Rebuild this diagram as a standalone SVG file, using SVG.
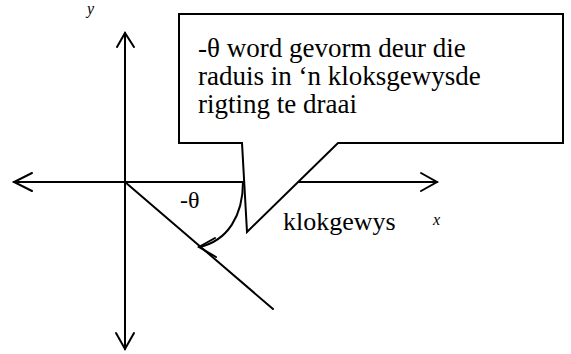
<svg xmlns="http://www.w3.org/2000/svg" width="571" height="354" viewBox="0 0 571 354">
<style>
.ln{fill:none;stroke:#000;stroke-width:2;stroke-linecap:round;stroke-linejoin:miter}
.t{font-family:"Liberation Serif","Times New Roman",serif;fill:#000}
.i{font-family:"Liberation Serif","Times New Roman",serif;font-style:italic;fill:#000}
</style>
<rect width="571" height="354" fill="#fff"/>
<g id="connectors">
<path class="ln" d="M125,33 V349"/>
<path class="ln" d="M117,47 L125,33 L134,47"/>
<path class="ln" d="M116,333 L125,349 L134,333"/>
<path class="ln" d="M14,182 H437"/>
<path class="ln" d="M32,173 L14,182 L32,191"/>
<path class="ln" d="M421,173 L437,182 L421,191"/>
<path class="ln" d="M125,182 L273,309"/>
<path class="ln" d="M243,182 C243,215 228,241 199,247"/>
<path class="ln" d="M215,238 L199,247 L216,257"/>
</g>
<g id="callout">
<path d="M179,14 H563 V143 H338 L247,232 L242,143 H179 Z" fill="#fff" stroke="#000" stroke-width="2" stroke-linejoin="miter"/>
<text class="t" font-size="27" x="198" y="57">-θ word gevorm deur die</text>
<text class="t" font-size="27" x="198" y="85">raduis in ‘n kloksgewysde</text>
<text class="t" font-size="27" x="198" y="113">rigting te draai</text>
</g>
<g id="labels">
<text class="t" font-size="24" x="180" y="208">-θ</text>
<text class="t" font-size="26" x="283" y="230">klokgewys</text>
<text class="i" font-size="16" x="433" y="225">x</text>
<text class="i" font-size="16" x="87" y="14">y</text>
</g>
</svg>
